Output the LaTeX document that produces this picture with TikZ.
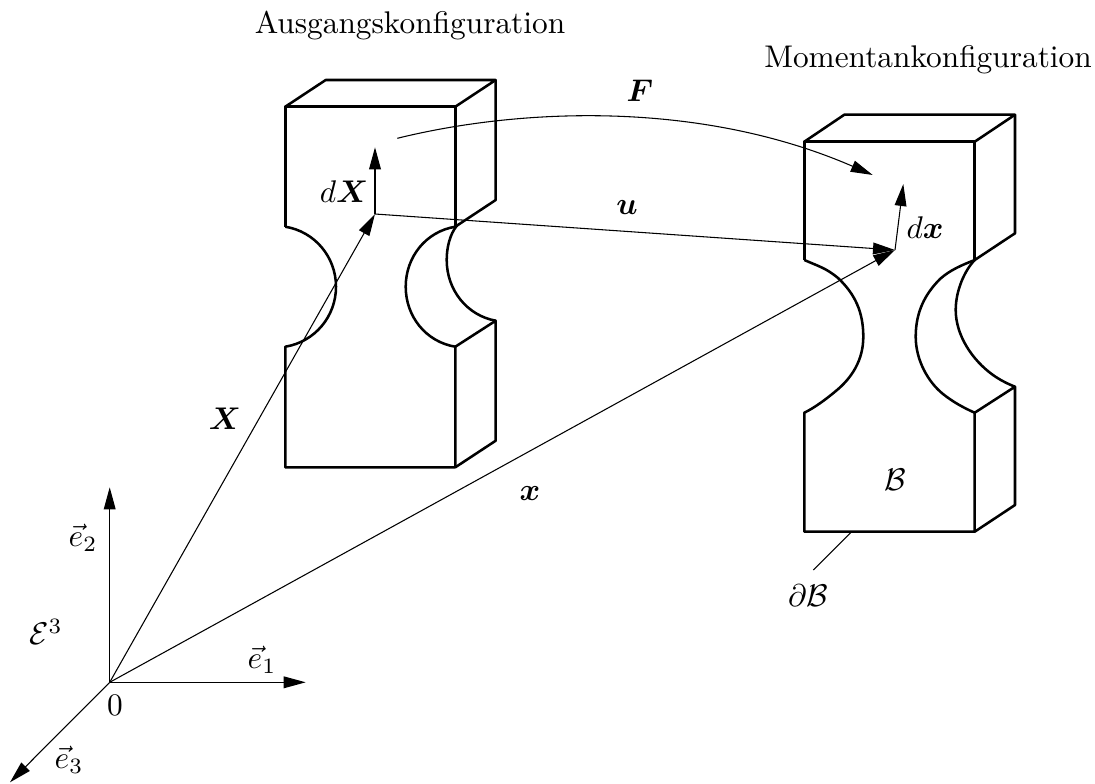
\documentclass[tikz,border=0pt]{standalone}
\usepackage{amsmath,amssymb,bm}
\usetikzlibrary{arrows.meta}

\begin{document}
\begin{tikzpicture}[
    x=0.75pt, y=-0.75pt,
    outline/.style={line width=1.9pt, line join=round},
    vec/.style={-{Triangle[length=16.5pt,width=8.8pt]}, line width=0.8pt},
    lead/.style={line width=0.8pt},
    lab/.style={scale=2.35, inner sep=0pt},
]
\useasboundingbox (0,0) rectangle (1095,783);

% points of the vectors
\coordinate (orig) at (109.7,682.3);
\coordinate (tipone) at (305.7,682.3);
\coordinate (tiptwo) at (109.7,487.3);
\coordinate (tipthree) at (10,782.3);
\coordinate (matpt) at (375,214);
\coordinate (matdir) at (375,147.3);
\coordinate (curpt) at (895,250);
\coordinate (curdir) at (903.3,184);
\coordinate (fstart) at (397.3,138.3);
\coordinate (fend) at (872.7,175);
\coordinate (leadtop) at (850.7,532.7);
\coordinate (leadend) at (813.3,570);

% reference body
\draw[outline] (285.3,226.7) -- (285.3,106.7) -- (455.3,106.7) -- (455.3,226.7);
\draw[outline] (285.3,106.7) -- (325.7,80) -- (495.7,80) -- (455.3,106.7);
\draw[outline] (495.7,80) -- (495.7,200) -- (455.3,226.7);
\draw[outline] (285.3,226.7) .. controls (314.7,231.5) and (336,256.9) .. (336,286.7)
    .. controls (336,316.5) and (314.7,341.9) .. (285.3,346.7) -- (285.3,467.3) -- (455.3,467.3) -- (455.3,346.7);
\draw[outline] (455.3,226.7) .. controls (426,231.5) and (405.7,256.9) .. (405.7,286.7)
    .. controls (405.7,316.5) and (426,341.9) .. (455.3,346.7) -- (495.7,320.7) -- (495.7,440.7) -- (455.3,467.3);
\draw[outline] (457,225.5) .. controls (450,234) and (446.7,247) .. (446.7,260)
    .. controls (446.7,290) and (467,315.5) .. (495.7,320.7);

% current body
\draw[outline] (804.3,260) -- (804.3,141.7) -- (974.7,141.7) -- (974.7,260);
\draw[outline] (804.3,141.7) -- (844.3,114.7) -- (1015,114.7) -- (974.7,141.7);
\draw[outline] (1015,114.7) -- (1015,233.3) -- (974.7,260);
\draw[outline] (804.3,260) .. controls (818,266) and (826,268) .. (838,278)
    .. controls (855,294) and (863.3,312) .. (863.3,336.7)
    .. controls (863.3,360) and (852,378) .. (835,391.7)
    .. controls (825,400) and (814,408) .. (804.3,412.7) -- (804.3,531.7) -- (974.7,531.7) -- (974.7,412.7);
\draw[outline] (974.7,260) .. controls (962,265) and (950,270) .. (940,279)
    .. controls (925,294) and (915.7,312) .. (915.7,336.7)
    .. controls (915.7,360) and (928,382) .. (943,394)
    .. controls (953,402) and (964,408) .. (974.7,412.7) -- (1015,386.7) -- (1015,505) -- (974.7,531.7);
\draw[outline] (974.7,260) .. controls (965,270) and (955.7,290) .. (955.7,310)
    .. controls (955.7,335) and (972,360) .. (993,375)
    .. controls (1000,380) and (1008,384) .. (1015,386.7);

% vectors
\draw[vec] (orig) -- (tipone);
\draw[vec] (orig) -- (tiptwo);
\draw[vec] (orig) -- (tipthree);
\draw[vec] (orig) -- (matpt);
\draw[vec] (orig) -- (curpt);
\draw[vec] (matpt) -- (matdir);
\draw[vec] (matpt) -- (curpt);
\draw[vec] (curpt) -- (curdir);
\draw[vec] (fstart) .. controls (520,108) and (700,100) .. (fend);
\draw[lead] (leadtop) -- (leadend);

% labels
\node[lab] (reflabel) at (410,26) {Ausgangskonfiguration};
\node[lab] (curlabel) at (928,60) {Momentankonfiguration};
\node[lab] (flabel) at (640,91) {$\bm{F}$};
\node[lab] (ulabel) at (627,208) {$\bm{u}$};
\node[lab] (dXlabel) at (344,192) {$d\bm{X}$};
\node[lab] (dxlabel) at (925,228) {$d\bm{x}$};
\node[lab] (Xlabel) at (225,419) {$\bm{X}$};
\node[lab] (xlabel) at (530,494) {$\bm{x}$};
\node[lab] (blabel) at (895,480) {$\mathcal{B}$};
\node[lab] (dblabel) at (808,596) {$\partial\mathcal{B}$};
\node[lab] (eonelabel) at (262,660) {$\vec{e}_1$};
\node[lab] (etwolabel) at (83,538) {$\vec{e}_2$};
\node[lab] (ethreelabel) at (69,760) {$\vec{e}_3$};
\node[lab] (spacelabel) at (46,632) {$\mathcal{E}^3$};
\node[lab] (origlabel) at (115,705) {$0$};
\end{tikzpicture}
\end{document}
